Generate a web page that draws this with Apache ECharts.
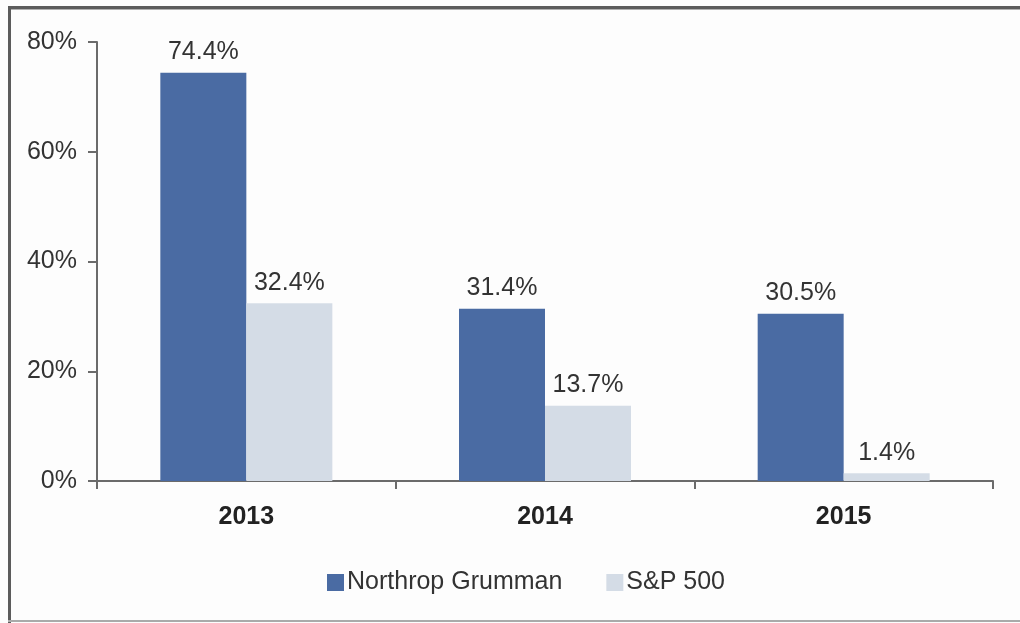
<!DOCTYPE html>
<html>
<head>
<meta charset="utf-8">
<script src="https://cdn.jsdelivr.net/npm/echarts@6/dist/echarts.min.js"></script>
<style>
  html, body { margin: 0; padding: 0; background: #fdfdfd; }
  #main { width: 1020px; height: 623px; }
</style>
</head>
<body>
<div id="main"></div>
<script>
// chart values
const years = ['2013', '2014', '2015']
const northrop = [74.4, 31.4, 30.5]
const sp500 = [32.4, 13.7, 1.4]
const yTicks = [0, 20, 40, 60, 80]

const blue = '#4a6ba3'
const light = '#d4dce6'
const axisGray = '#6b6b6b'
const font = 'Liberation Sans, Arial, sans-serif'

const myChart = echarts.init(document.getElementById('main'))

const labelStyle = {
  show: true,
  position: 'top',
  distance: 8,
  color: '#333',
  fontSize: 25,
  fontFamily: font,
  formatter: p => p.value.toFixed(1) + '%'
}

myChart.setOption({
  backgroundColor: '#fdfdfd',
  animation: false,
  graphic: [
    // frame round the picture
    { type: 'rect', shape: { x: 8, y: 6, width: 1012, height: 3 }, style: { fill: '#5c5c5c' } },
    { type: 'rect', shape: { x: 8, y: 9, width: 1012, height: 1 }, style: { fill: '#b0b0b0' } },
    { type: 'rect', shape: { x: 8, y: 6, width: 3, height: 617 }, style: { fill: '#5c5c5c' } },
    { type: 'rect', shape: { x: 8, y: 620, width: 1012, height: 2 }, style: { fill: '#aaaaaa' } }
  ],
  grid: {
    left: 97,
    right: 27,
    top: 42,
    bottom: 142
  },
  legend: {
    data: ['Northrop Grumman', 'S&P 500'],
    left: 322,
    top: 565,
    itemWidth: 17,
    itemHeight: 17,
    itemGap: 44,
    icon: 'rect',
    textStyle: {
      color: '#333',
      fontSize: 25,
      fontFamily: font,
      padding: [0, 0, 0, -2]
    }
  },
  xAxis: {
    type: 'category',
    data: years,
    axisLine: { lineStyle: { color: axisGray, width: 2 } },
    axisTick: { show: true, length: 8, lineStyle: { color: axisGray, width: 2 } },
    axisLabel: {
      margin: 24,
      color: '#222',
      fontSize: 25,
      fontWeight: 'bold',
      fontFamily: font
    }
  },
  yAxis: {
    type: 'value',
    min: yTicks[0],
    max: yTicks[yTicks.length - 1],
    interval: 20,
    axisLine: { show: true, lineStyle: { color: axisGray, width: 2 } },
    axisTick: { show: true, length: 9, lineStyle: { color: axisGray, width: 2 } },
    splitLine: { show: false },
    axisLabel: {
      margin: 20,
      color: '#333',
      fontSize: 25,
      fontFamily: font,
      formatter: '{value}%'
    }
  },
  series: [
    {
      name: 'Northrop Grumman',
      type: 'bar',
      barWidth: 86,
      barGap: '0%',
      itemStyle: { color: blue },
      label: labelStyle,
      data: northrop
    },
    {
      name: 'S&P 500',
      type: 'bar',
      barWidth: 86,
      barGap: '0%',
      itemStyle: { color: light },
      label: labelStyle,
      data: sp500
    }
  ]
})
</script>
</body>
</html>
